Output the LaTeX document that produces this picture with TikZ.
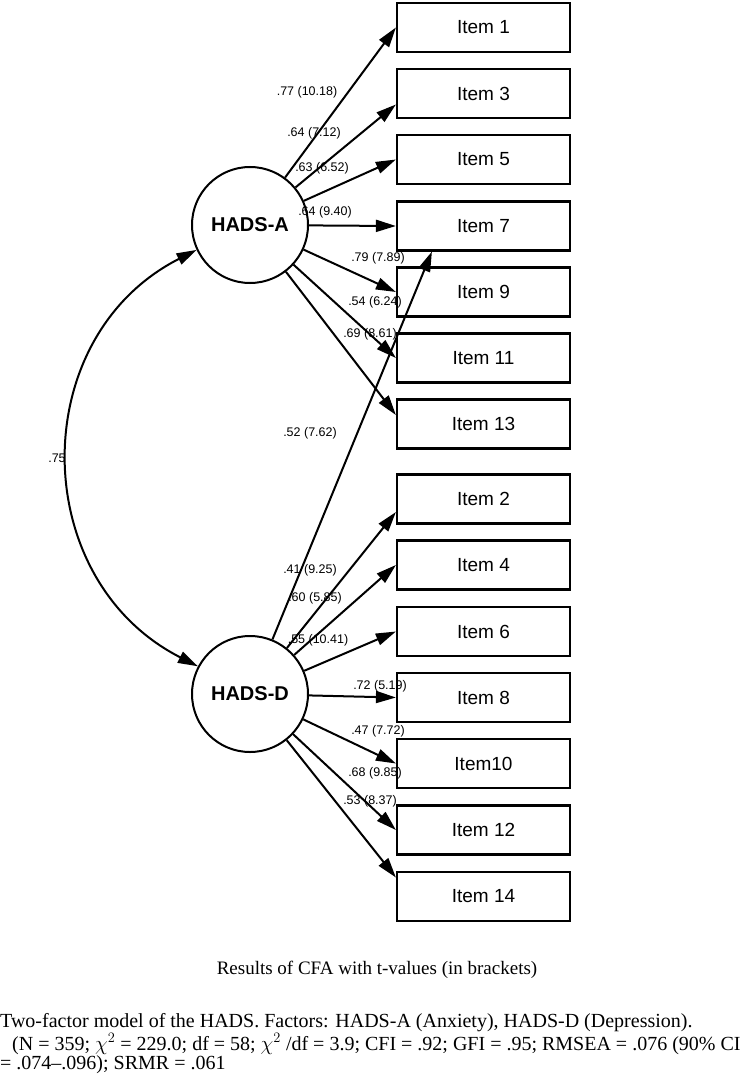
\documentclass[tikz,border=0pt]{standalone}
\usepackage{fontspec}
\setmainfont{Liberation Serif}
\newfontfamily\arial{Liberation Sans}
\usetikzlibrary{arrows.meta}

\tikzset{
	item/.style={draw, line width=2.2pt, minimum width=173pt, minimum height=49pt, inner sep=0pt, font=\arial\fontsize{19}{22}\selectfont},
	factor/.style={circle, draw, line width=2pt, minimum size=116pt, inner sep=0pt, font=\arial\bfseries\fontsize{20}{24}\selectfont},
	load/.style={inner sep=0pt, font=\arial\fontsize{12.5}{14}\selectfont},
	arr/.style={-{Triangle[length=20pt,width=12pt]}, line width=2pt},
	note/.style={inner sep=0pt, anchor=west, font=\fontsize{20}{22}\selectfont}
}

\begin{document}
\begin{tikzpicture}[x=1pt, y=-1pt]
	\useasboundingbox (0,0) rectangle (755,1078);
	\node[factor] (hadsA) at (250,225) {HADS-A};
	\node[factor] (hadsD) at (250,694) {HADS-D};
	% indicator boxes
	\foreach \n/\t/\y in {1/Item 1/27.5, 3/Item 3/93.5, 5/Item 5/159.5, 7/Item 7/226, 9/Item 9/292, 11/Item 11/358, 13/Item 13/424,
		2/Item 2/499, 4/Item 4/565, 6/Item 6/631.5, 8/Item 8/697.5, 10/Item10/763.5, 12/Item 12/830, 14/Item 14/896.5}
	{
		\node[item] (i\n) at (483.5,\y) {\t};
	}
	% loadings
	\foreach \n/\s in {1/0, 3/-11, 5/0, 7/0, 9/0, 11/0, 13/9}
	{
		\draw[arr] (hadsA) -- ([yshift=\s pt]i\n.west);
	}
	\foreach \n/\s in {2/-13, 4/0, 6/0, 8/0, 10/0, 12/0, 14/19}
	{
		\draw[arr] (hadsD) -- ([yshift=\s pt]i\n.west);
	}
	\draw[arr] (hadsD) -- ([xshift=36pt]i7.south west);
	\draw[{Triangle[length=20pt,width=12pt]}-{Triangle[length=20pt,width=12pt]}, line width=2pt]
		(hadsA.205) .. controls +(-171,87) and +(-171,-87) .. (hadsD.152);
	% labels
	\node[load] (l1) at (307,92) {.77 (10.18)};
	\node[load] (l3) at (314,133) {.64 (7.12)};
	\node[load] (l5) at (322,168) {.63 (6.52)};
	\node[load] (l7) at (325,212) {.64 (9.40)};
	\node[load] (l9) at (378,258) {.79 (7.89)};
	\node[load] (l11) at (375,302) {.54 (6.24)};
	\node[load] (l13) at (370,334) {.69 (8.61)};
	\node[load] (l7d) at (310,433) {.52 (7.62)};
	\node[load] (l2) at (310,570) {.41 (9.25)};
	\node[load] (l4) at (315,598) {.60 (5.85)};
	\node[load] (l6) at (318,640) {.55 (10.41)};
	\node[load] (l8) at (380,686) {.72 (5.19)};
	\node[load] (l10) at (378,731) {.47 (7.72)};
	\node[load] (l12) at (375,773) {.68 (9.85)};
	\node[load] (l14) at (370,801) {.53 (8.37)};
	\node[load] (lr) at (57,458) {.75};
	% caption
	\node[inner sep=0pt, font=\fontsize{19}{22}\selectfont] (cap) at (377,970) {Results of CFA with t-values (in brackets)};
	\node[note] (n1) at (0,1023) {Two-factor model of the HADS. Factors: HADS-A (Anxiety), HADS-D (Depression).};
	\node[note] (n2) at (12,1044) {(N = 359; $\chi^2$ = 229.0; df = 58; $\chi^2$ /df = 3.9; CFI = .92; GFI = .95; RMSEA = .076 (90\% CI};
	\node[note] (n3) at (0,1065) {= .074--.096); SRMR = .061};
\end{tikzpicture}
\end{document}
